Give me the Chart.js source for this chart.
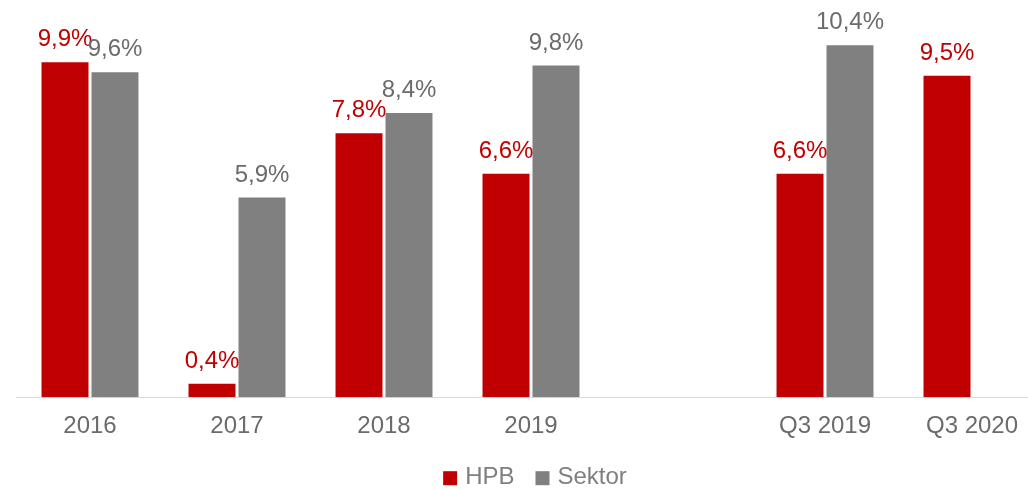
<!DOCTYPE html>
<html>
<head>
<meta charset="utf-8">
<script src="https://cdn.jsdelivr.net/npm/chart.js@4/dist/chart.umd.min.js"></script>
<style>
  html, body { margin: 0; padding: 0; background: #fff; overflow: hidden; }
  #wrap { width: 1028px; height: 489px; overflow: hidden; position: relative; }
  #box { width: 1062px; height: 489px; position: absolute; left: 0; top: 0; }
</style>
</head>
<body>
<div id="wrap"><div id="box"><canvas id="roe"></canvas></div></div>
<script>
// categories (empty slot separates yearly and quarterly figures)
const categories = ['2016', '2017', '2018', '2019', '', 'Q3 2019', 'Q3 2020'];
const hpbValues = [9.9, 0.4, 7.8, 6.6, null, 6.6, 9.5];
const sektorValues = [9.6, 5.9, 8.4, 9.8, null, 10.4, null];
const seriesNames = ['HPB', 'Sektor'];

const RED = '#C00000';
const GREY = '#808080';
const TEXT_GREY = '#6b6b6b';
const LEGEND_GREY = '#7f7f7f';
const FONT = '"Liberation Sans", Arial, sans-serif';

const fmt = v => v.toFixed(1).replace('.', ',') + '%';

// value labels above every bar
const barLabels = {
  id: 'barLabels',
  afterDatasetsDraw(chart) {
    const ctx = chart.ctx;
    ctx.save();
    ctx.font = '24px ' + FONT;
    ctx.textAlign = 'center';
    ctx.textBaseline = 'alphabetic';
    chart.data.datasets.forEach((ds, i) => {
      const meta = chart.getDatasetMeta(i);
      ctx.fillStyle = ds.labelColor;
      meta.data.forEach((bar, j) => {
        const v = ds.data[j];
        if (v === null || v === undefined) return;
        ctx.fillText(fmt(v), bar.x, bar.y - 16);
      });
    });
    ctx.restore();
  }
};

// legend row under the axis: square, 8px gap, name, 21px to the next item
const bottomLegend = {
  id: 'bottomLegend',
  afterDraw(chart) {
    const ctx = chart.ctx;
    const area = chart.chartArea;
    ctx.save();
    ctx.font = '24px ' + FONT;
    ctx.textBaseline = 'alphabetic';
    const items = chart.data.datasets.map(ds => ({
      text: ds.label, color: ds.backgroundColor, w: ctx.measureText(ds.label).width
    }));
    const total = items.reduce((s, it) => s + 14 + 8 + it.w, 0) + 21 * (items.length - 1);
    let x = (area.left + area.right) / 2 + 4 - total / 2;
    const baseline = area.bottom + 87;
    items.forEach(it => {
      ctx.fillStyle = it.color;
      ctx.fillRect(x, baseline - 13, 14, 14);
      x += 14 + 8;
      ctx.fillStyle = LEGEND_GREY;
      ctx.fillText(it.text, x, baseline);
      x += it.w + 21;
    });
    ctx.restore();
  }
};

new Chart(document.getElementById('roe'), {
  type: 'bar',
  data: {
    labels: categories,
    datasets: [
      { label: seriesNames[0], data: hpbValues, backgroundColor: RED, labelColor: RED },
      { label: seriesNames[1], data: sektorValues, backgroundColor: GREY, labelColor: TEXT_GREY }
    ]
  },
  options: {
    responsive: true,
    maintainAspectRatio: false,
    animation: false,
    categoryPercentage: 0.68,
    barPercentage: 0.94,
    layout: { padding: { left: 16.5, right: 16.5, top: 8, bottom: 41 } },
    plugins: {
      legend: { display: false },
      tooltip: { enabled: false }
    },
    scales: {
      x: {
        grid: { display: false },
        border: { color: '#d9d9d9', width: 1 },
        ticks: {
          font: { size: 24, family: FONT },
          color: TEXT_GREY,
          padding: 7,
          maxRotation: 0
        }
      },
      y: {
        display: false,
        min: 0,
        max: 11.5
      }
    }
  },
  plugins: [barLabels, bottomLegend]
});
</script>
</body>
</html>
